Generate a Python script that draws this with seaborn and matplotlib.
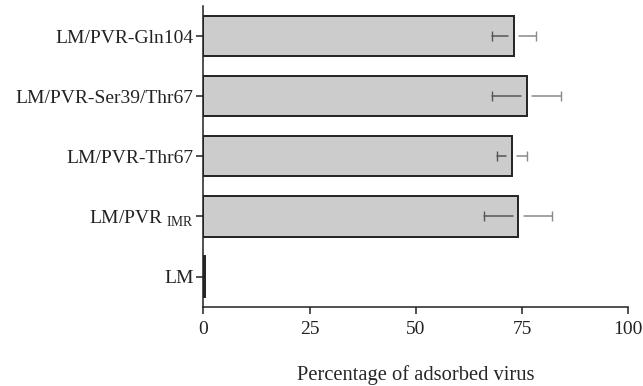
import matplotlib
matplotlib.use("Agg")
import matplotlib.pyplot as plt
import seaborn as sns
import pandas as pd

# values (percent adsorbed, +/- error)
cell_lines = ["LM/PVR-Gln104", "LM/PVR-Ser39/Thr67", "LM/PVR-Thr67",
              r"LM/PVR$_{\ \mathrm{IMR}}$", "LM"]
adsorbed = [73.1, 76.1, 72.6, 74.1, 0.5]
errors = [5.2, 8.1, 3.6, 8.0, 0.0]
xticks = [0, 25, 50, 75, 100]

sns.set_style("ticks")
plt.rcParams["font.family"] = ["Liberation Serif", "DejaVu Serif"]
plt.rcParams["mathtext.fontset"] = "custom"
plt.rcParams["mathtext.rm"] = "Liberation Serif"

df = pd.DataFrame({"line": cell_lines, "pct": adsorbed})

fig = plt.figure(figsize=(6.43, 3.86), dpi=100)
ax = fig.add_axes([0.3162, 0.2054, 0.6609, 0.7791])

sns.barplot(data=df, x="pct", y="line", orient="h", color="#cccccc",
            saturation=1, edgecolor="#222222", linewidth=1.4, width=0.67, ax=ax)

# error bars: darker half inside the bar, lighter half outside, small gap at the bar end
gap = 1.3
for i, (v, e) in enumerate(zip(adsorbed, errors)):
    if e <= 0:
        continue
    ax.plot([v - e, v - gap], [i, i], color="#555555", lw=1.1,
            marker="|", markersize=7, markevery=[0], zorder=5)
    ax.plot([v + gap, v + e], [i, i], color="#8a8a8a", lw=1.1,
            marker="|", markersize=7, markevery=[1], zorder=5)

ax.set_xlim(0, 100)
ax.set_ylim(4.5, -0.5)
ax.set_xticks(xticks)
ax.set_xticklabels([str(t) for t in xticks])
ax.set_ylabel("")
ax.set_xlabel("Percentage of adsorbed virus", fontsize=14.8, labelpad=20)
ax.tick_params(axis="both", labelsize=14, length=5, width=1.1, colors="#222222")
ax.tick_params(axis="x", pad=5)
ax.tick_params(axis="y", pad=2)
for s in ["left", "bottom"]:
    ax.spines[s].set_linewidth(1.1)
    ax.spines[s].set_color("#222222")
sns.despine(ax=ax)

fig.savefig("out.png", dpi=100)
